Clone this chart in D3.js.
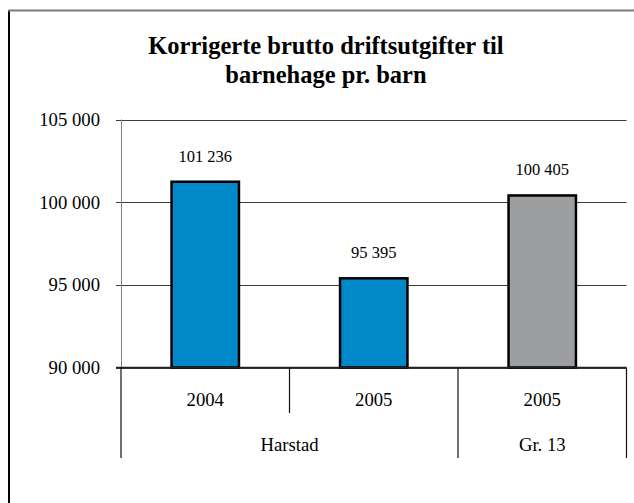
<!DOCTYPE html>
<html>
<head>
<meta charset="utf-8">
<script src="https://cdn.jsdelivr.net/npm/d3@7"></script>
<style>
  html, body { margin: 0; padding: 0; background: #fff; }
  svg { display: block; }
</style>
</head>
<body>
<svg id="chart" width="634" height="503"></svg>
<script>
const titleLines = ["Korrigerte brutto driftsutgifter til", "barnehage pr. barn"];
const years = ["2004", "2005", "2005"];
const groups = ["Harstad", "Harstad", "Gr. 13"];
const groupNames = ["Harstad", "Gr. 13"];
const values = [101236, 95395, 100405];
const barColors = ["#0088c8", "#0088c8", "#9d9ea0"];
const yTicks = [90000, 95000, 100000, 105000];

(function () {
const FONT = "'Liberation Serif'";
const svg = d3.select("#chart");
const W = 634, H = 503;
const pLeft = 121, pRight = 626.5, pTop = 119.5, pBottom = 367.5;

const locale = d3.formatLocale({decimal: ",", thousands: "\u00a0", grouping: [3], currency: ["", ""]});
const fmt = locale.format(",d");

// outer frame (extends beyond right/bottom edges)
svg.append("line").attr("x1", 9).attr("x2", 9).attr("y1", 10).attr("y2", H + 5)
  .attr("stroke", "#000").attr("stroke-width", 2);
svg.append("line").attr("x1", 8).attr("x2", W + 5).attr("y1", 10.5).attr("y2", 10.5)
  .attr("stroke", "#7a7a7a").attr("stroke-width", 2);

// title
const title = svg.append("text").attr("text-anchor", "middle")
  .style("font-family", FONT).style("font-weight", "bold").style("font-size", "24.5px");
titleLines.forEach((t, i) => {
  title.append("tspan").attr("x", 326).attr("y", 54 + i * 29).text(t);
});

const idx = d3.range(values.length);
const x = d3.scaleBand().domain(idx).range([pLeft, pRight]).paddingInner(0.6).paddingOuter(0.3);
const y = d3.scaleLinear().domain([90000, 105000]).range([pBottom, pTop]);

// gridlines
svg.append("g").selectAll("line").data(yTicks).join("line")
  .attr("x1", pLeft - 5).attr("x2", pRight)
  .attr("y1", d => Math.round(y(d)) + 0.5).attr("y2", d => Math.round(y(d)) + 0.5)
  .attr("stroke", "#3a3a3a").attr("stroke-width", 1.2);

// y axis line
svg.append("line").attr("x1", pLeft + 0.5).attr("x2", pLeft + 0.5)
  .attr("y1", pTop).attr("y2", pBottom)
  .attr("stroke", "#808080").attr("stroke-width", 1);

// y tick labels
svg.append("g").selectAll("text").data(yTicks).join("text")
  .style("font-family", FONT).style("font-size", "18.7px")
  .attr("x", 100).attr("y", d => y(d)).attr("dy", "0.35em")
  .attr("text-anchor", "end")
  .text(d => fmt(d));

// bars
svg.append("g").selectAll("rect").data(idx).join("rect")
  .attr("x", i => x(i)).attr("width", x.bandwidth())
  .attr("y", i => y(values[i])).attr("height", i => y(90000) - y(values[i]))
  .attr("fill", i => barColors[i]).attr("stroke", "#000").attr("stroke-width", 2.5);

// value labels
svg.append("g").selectAll("text").data(idx).join("text")
  .style("font-family", FONT).style("font-size", "16.5px")
  .attr("x", i => x(i) + x.bandwidth() / 2).attr("y", i => y(values[i]) - 20)
  .attr("text-anchor", "middle")
  .text(i => fmt(values[i]));

// baseline
svg.append("line").attr("x1", pLeft - 5).attr("x2", pRight)
  .attr("y1", pBottom).attr("y2", pBottom).attr("stroke", "#222").attr("stroke-width", 1.3);

// category axis separators
const step = x.step();
const edges = d3.range(values.length + 1).map(i => pLeft + i * step);
const groupStart = idx.map(i => i === 0 || groups[i] !== groups[i - 1]);
edges.forEach((e, i) => {
  const isGroupEdge = i === 0 || i === values.length || groupStart[i];
  svg.append("line").attr("x1", e).attr("x2", e)
    .attr("y1", pBottom).attr("y2", isGroupEdge ? 458 : 413)
    .attr("stroke", "#111").attr("stroke-width", 1.2);
});

// year labels
svg.append("g").selectAll("text").data(idx).join("text")
  .style("font-family", FONT).style("font-size", "18.7px")
  .attr("x", i => x(i) + x.bandwidth() / 2).attr("y", 406)
  .attr("text-anchor", "middle")
  .text(i => years[i]);

// group labels
groupNames.forEach(g => {
  const members = idx.filter(i => groups[i] === g);
  const x0 = pLeft + d3.min(members) * step;
  const x1 = pLeft + (d3.max(members) + 1) * step;
  svg.append("text").style("font-family", FONT).style("font-size", "18.7px")
    .attr("x", (x0 + x1) / 2).attr("y", 450.5)
    .attr("text-anchor", "middle").text(g);
});
})();
</script>
</body>
</html>
